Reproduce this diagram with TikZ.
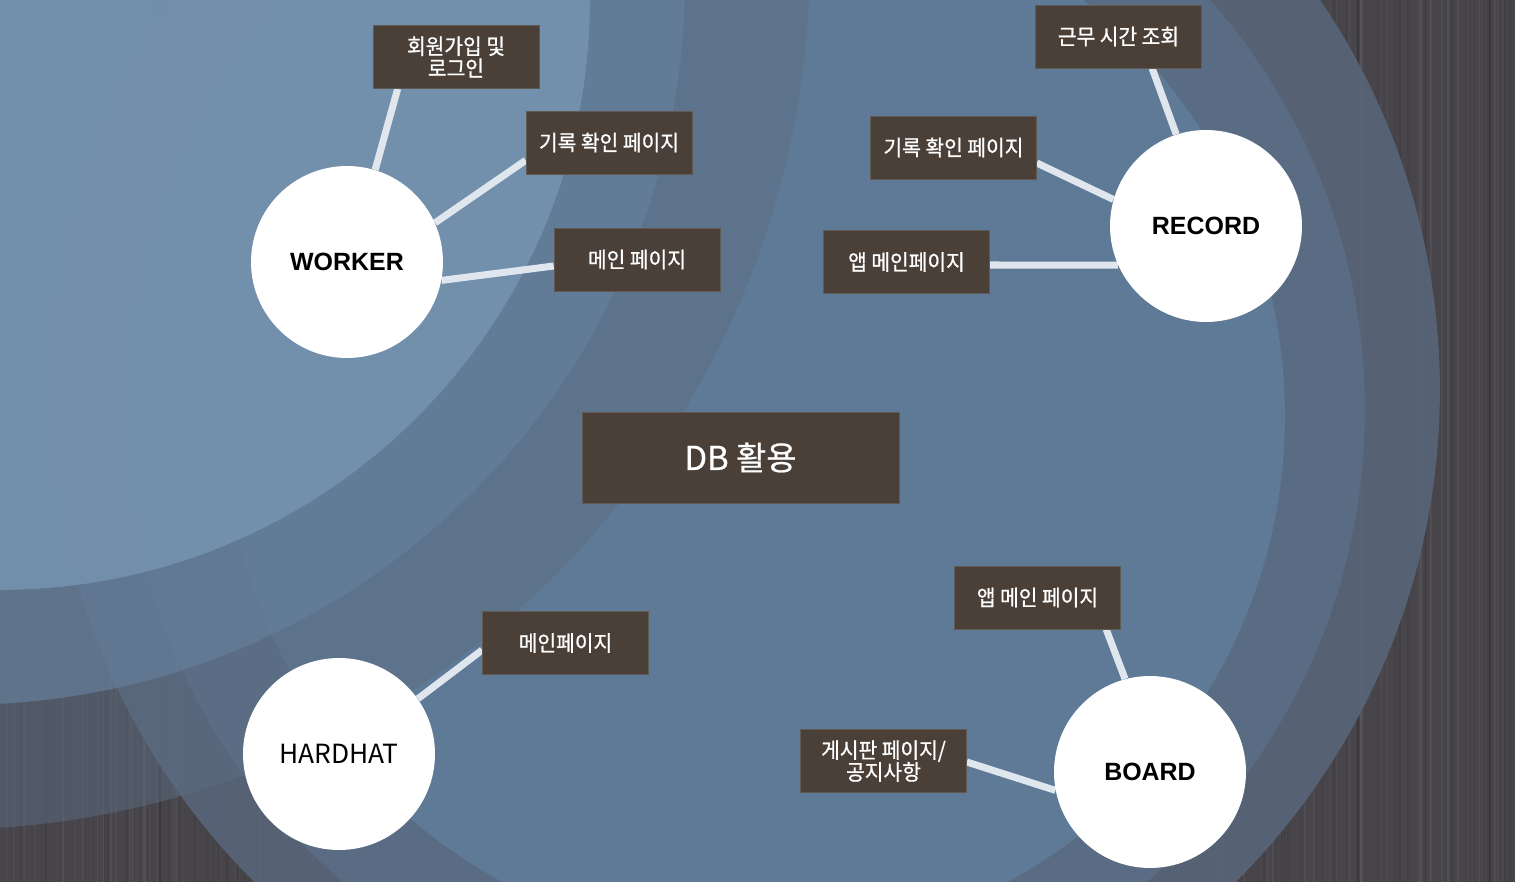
\documentclass[tikz,border=0pt]{standalone}
\usepackage{fontspec}
\setmainfont{Liberation Sans}
\newfontfamily\kr[FakeStretch=0.94,FakeBold=0.9]{Noto Sans CJK KR}
\newfontfamily\krdb[FakeBold=0.7]{Noto Sans CJK KR}
\newfontfamily\krn{Noto Sans CJK KR}
\usetikzlibrary{calc}
\pgfdeclarelayer{bg}
\pgfdeclarelayer{lines}
\pgfsetlayers{bg,lines,main}
\definecolor{wood}{RGB}{71,69,74}
\definecolor{rone}{RGB}{88,101,121}
\definecolor{rtwo}{RGB}{91,110,134}
\definecolor{rthree}{RGB}{96,124,153}
\definecolor{tlone}{RGB}{117,147,176}
\definecolor{tltwo}{RGB}{101,127,155}
\definecolor{tlthree}{RGB}{92,110,132}
\definecolor{boxc}{RGB}{74,64,56}
\definecolor{boxedge}{RGB}{96,90,84}
\definecolor{linec}{RGB}{224,230,238}
\tikzset{
  box/.style={fill=boxc, draw=boxedge, line width=0.4pt, minimum width=3.32cm, minimum height=1.26cm,
    inner sep=0pt, text=white, font=\kr\fontsize{12.3}{12.5}\selectfont, align=center},
  ent/.style={circle, fill=white, minimum size=3.84cm, inner sep=0pt, text=black,
    font=\bfseries\fontsize{14.2}{16}\selectfont},
  conn/.style={draw=linec, line width=4pt}
}
\begin{document}
\begin{tikzpicture}[x=0.02cm,y=-0.02cm]
\useasboundingbox (0,0) rectangle (1515,882);
\begin{pgfonlayer}{bg}
\begin{scope}
\clip (0,0) rectangle (1515,882);
\fill[wood] (0,0) rectangle (1515,882);
\pgfmathsetseed{7}
\foreach \i in {1,...,180}{
  \pgfmathsetmacro\xx{random(0,1515)}
  \pgfmathsetmacro\ww{0.2+1.6*rnd}
  \pgfmathsetmacro\oo{0.03+0.05*rnd}
  \draw[black,opacity=\oo,line width=\ww pt] (\xx,0) -- (\xx,882);
}
\foreach \i in {1,...,160}{
  \pgfmathsetmacro\xx{random(0,1515)}
  \pgfmathsetmacro\ww{0.2+1.2*rnd}
  \pgfmathsetmacro\oo{0.02+0.04*rnd}
  \draw[white,opacity=\oo,line width=\ww pt] (\xx,0) -- (\xx,882);
}
\foreach \xx in {160,470,720,1060,1358,1490}{
  \draw[black,opacity=0.18,line width=1pt] (\xx,0) -- (\xx,882);
}
\fill[rone,opacity=0.9] (745,390) circle[radius=13.9cm];
\fill[rtwo,opacity=0.9] (745,410) circle[radius=12.4cm];
\fill[rthree,opacity=0.9] (755,416) circle[radius=10.6cm];
\fill[tlthree,opacity=0.5] (-60,-40) circle[radius=17.4cm];
\fill[tltwo,opacity=0.7] (-40,-20) circle[radius=14.5cm];
\fill[tlone,opacity=0.85] (0,0) circle[radius=11.8cm];
\end{scope}
\end{pgfonlayer}

% entities
\node[ent] (worker) at (347,262) {WORKER};
\node[ent] (record) at (1206,226) {RECORD};
\node[ent, font=\krn\fontsize{15}{17}\selectfont] (hardhat) at (339,754) {HARDHAT};
\node[ent] (board) at (1150,772) {BOARD};

% center
\node[box, minimum width=6.34cm, minimum height=1.82cm, font=\krdb\fontsize{18.7}{20}\selectfont] (db) at (740.5,457.5) {DB 활용};

% worker boxes
\node[box] (login) at (456,57) {회원가입 및\\로그인};
\node[box] (wrec) at (609,142.5) {기록 확인 페이지};
\node[box] (wmain) at (637,259.5) {메인 페이지};

% record boxes
\node[box] (work) at (1118.5,36.5) {근무 시간 조회};
\node[box] (rrec) at (953.5,147.5) {기록 확인 페이지};
\node[box] (rmain) at (906.5,262) {앱 메인페이지};

% hardhat box
\node[box] (hmain) at (565.5,643) {메인페이지};

% board boxes
\node[box] (bmain) at (1037.5,597.5) {앱 메인 페이지};
\node[box] (bnotice) at (883.5,761) {게시판 페이지/\\공지사항};

\begin{pgfonlayer}{lines}
\draw[conn] (worker.73.6) -- ($(login.south west)+(25,0)$);
\draw[conn] (worker.24.4) -- ($(wrec.south west)+(0,-14)$);
\draw[conn] (worker.-11) -- ($(wmain.west)+(0,6.5)$);
\draw[conn] (record.108.8) -- ($(work.south west)+(117,0)$);
\draw[conn] (record.164.4) -- ($(rrec.east)+(0,15.5)$);
\draw[conn] (record.204.2) -- ($(rmain.east)+(0,3)$);
\draw[conn] (hardhat.35.3) -- ($(hmain.west)+(0,7)$);
\draw[conn] (board.105.9) -- ($(bmain.south west)+(152,0)$);
\draw[conn] (board.191) -- ($(bnotice.east)+(0,1)$);
\end{pgfonlayer}
\end{tikzpicture}
\end{document}
